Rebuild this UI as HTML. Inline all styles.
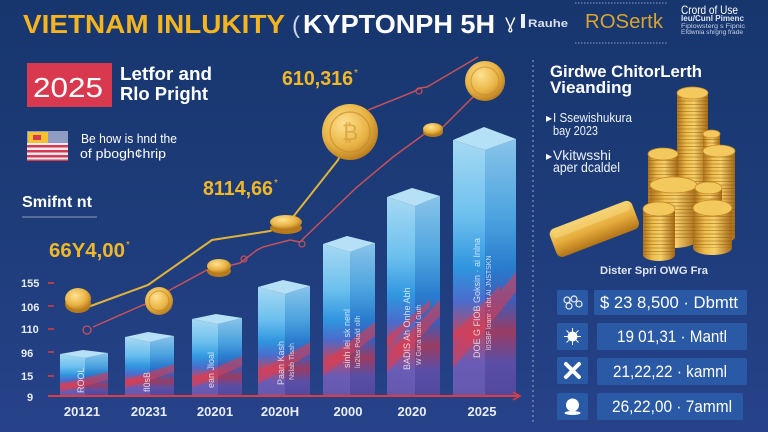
<!DOCTYPE html>
<html><head><meta charset="utf-8"><style>
html,body{margin:0;padding:0;background:#1b3a74;}
svg{display:block;}
text{font-family:"Liberation Sans",sans-serif;}
</style></head><body>
<svg width="768" height="432" viewBox="0 0 768 432" xmlns="http://www.w3.org/2000/svg">
<defs>
<linearGradient id="bg" x1="0" y1="0" x2="0" y2="1">
<stop offset="0" stop-color="#17366e"/><stop offset="0.5" stop-color="#1d3c79"/><stop offset="1" stop-color="#27428a"/>
</linearGradient>
<linearGradient id="bl" x1="0" y1="0" x2="0" y2="1">
<stop offset="0" stop-color="#a6d9f3"/><stop offset="0.3" stop-color="#6cc0ee"/><stop offset="0.5" stop-color="#2f95df"/><stop offset="0.63" stop-color="#4a6ccc"/><stop offset="0.75" stop-color="#b9486a"/><stop offset="0.87" stop-color="#6a5cb6"/><stop offset="1" stop-color="#6458ae"/>
</linearGradient>
<linearGradient id="br" x1="0" y1="0" x2="0" y2="1">
<stop offset="0" stop-color="#88c4ea"/><stop offset="0.3" stop-color="#4da4df"/><stop offset="0.5" stop-color="#297cce"/><stop offset="0.63" stop-color="#3f5cb8"/><stop offset="0.75" stop-color="#9a3c62"/><stop offset="0.87" stop-color="#5a4ea6"/><stop offset="1" stop-color="#52489e"/>
</linearGradient>
<radialGradient id="coin" cx="0.4" cy="0.35" r="0.7">
<stop offset="0" stop-color="#ffe291"/><stop offset="0.6" stop-color="#e8b344"/><stop offset="1" stop-color="#b5771b"/>
</radialGradient>
<linearGradient id="stk" x1="0" y1="0" x2="1" y2="0">
<stop offset="0" stop-color="#b0741b"/><stop offset="0.3" stop-color="#eebd4c"/><stop offset="0.55" stop-color="#f6d06a"/><stop offset="1" stop-color="#a66914"/>
</linearGradient>
<linearGradient id="gbar" x1="0" y1="0" x2="0" y2="1">
<stop offset="0" stop-color="#f6d374"/><stop offset="0.5" stop-color="#e6ac3c"/><stop offset="1" stop-color="#b27418"/>
</linearGradient>
<pattern id="rid" width="4" height="3.5" patternUnits="userSpaceOnUse"><rect y="2.5" width="4" height="1" fill="#8a5510" opacity="0.45"/></pattern>
</defs>

<rect width="768" height="432" fill="url(#bg)"/>

<!-- Title -->
<text x="23" y="33" font-size="26" font-weight="bold" fill="#f4b51f" textLength="262" lengthAdjust="spacingAndGlyphs">VIETNAM INLUKITY</text>
<text x="292" y="33" font-size="24" fill="#c9d2e6">(</text>
<text x="303" y="33" font-size="26" font-weight="bold" fill="#ffffff" textLength="192" lengthAdjust="spacingAndGlyphs">KYPTONPH 5H</text>
<text x="505" y="29" font-size="17" fill="#ffffff">Ɣ</text>
<rect x="521" y="14" width="4" height="14" fill="#e8edf6"/>
<text x="528" y="27" font-size="11" font-weight="bold" fill="#d8e0ee" textLength="40" lengthAdjust="spacingAndGlyphs">Rauhe</text>
<line x1="575" y1="3" x2="668" y2="3" stroke="#8d9cc4" stroke-width="1" stroke-dasharray="1.5 1.5"/>
<line x1="575" y1="43" x2="668" y2="43" stroke="#8d9cc4" stroke-width="1" stroke-dasharray="1.5 1.5"/>
<text x="585" y="28" font-size="20" fill="#d9a231" textLength="78" lengthAdjust="spacingAndGlyphs">ROSertk</text>
<text x="681" y="14" font-size="12" fill="#ffffff" textLength="57" lengthAdjust="spacingAndGlyphs">Crord of Use</text>
<text x="681" y="21" font-size="8" font-weight="bold" fill="#dde4f2" textLength="63" lengthAdjust="spacingAndGlyphs">Ieu/Cunl Pimenc</text>
<text x="681" y="28" font-size="6" fill="#c9d3e8" textLength="64" lengthAdjust="spacingAndGlyphs">Fiplowsterg s Fipnic</text>
<text x="681" y="34" font-size="6" fill="#c9d3e8" textLength="62" lengthAdjust="spacingAndGlyphs">Efdwnia shrgng frade</text>

<!-- Left header -->
<rect x="27" y="63" width="85" height="44" fill="#d8394f"/>
<text x="33" y="97" font-size="28" fill="#ffffff" textLength="70" lengthAdjust="spacingAndGlyphs">2025</text>
<text x="120" y="80" font-size="18" font-weight="bold" fill="#ffffff" textLength="92" lengthAdjust="spacingAndGlyphs">Letfor and</text>
<text x="120" y="100" font-size="18" font-weight="bold" fill="#ffffff" textLength="88" lengthAdjust="spacingAndGlyphs">Rlo Pright</text>

<!-- flag -->
<rect x="27" y="131" width="41" height="30" fill="#e9ecf4"/>
<rect x="27" y="131" width="41" height="12" fill="#8f9cc4"/>
<rect x="28" y="132" width="20" height="11" fill="#f2c230"/>
<rect x="33" y="135" width="8" height="5" fill="#d8394f"/>
<rect x="27" y="145" width="41" height="2.5" fill="#d8394f"/>
<rect x="27" y="150" width="41" height="2.5" fill="#d8394f"/>
<rect x="27" y="155" width="41" height="2.5" fill="#d8394f"/>
<rect x="27" y="159.5" width="41" height="1.5" fill="#d8394f"/>
<text x="81" y="143" font-size="13" fill="#ffffff" textLength="96" lengthAdjust="spacingAndGlyphs">Be how is hnd the</text>
<text x="80" y="158" font-size="13" fill="#ffffff" textLength="86" lengthAdjust="spacingAndGlyphs">of pbogh¢hrip</text>

<text x="22" y="207" font-size="16" font-weight="bold" fill="#ffffff" textLength="70" lengthAdjust="spacingAndGlyphs">Smifnt nt</text>
<line x1="22" y1="217" x2="97" y2="217" stroke="#8f9ab8" stroke-width="1"/>

<!-- yellow values -->
<text x="49" y="257" font-size="20" font-weight="bold" fill="#f0b828" textLength="76" lengthAdjust="spacingAndGlyphs">66Y4,00</text>
<text x="126" y="248" font-size="10" fill="#f0b828">*</text>
<text x="203" y="195" font-size="20" font-weight="bold" fill="#f0b828" textLength="70" lengthAdjust="spacingAndGlyphs">8114,66</text>
<text x="274" y="186" font-size="10" fill="#f0b828">*</text>
<text x="282" y="85" font-size="20" font-weight="bold" fill="#f0b828" textLength="71" lengthAdjust="spacingAndGlyphs">610,316</text>
<text x="354" y="76" font-size="10" fill="#f0b828">*</text>

<!-- Y axis -->
<g font-size="11" font-weight="bold" fill="#e6ecf6">
<text x="21" y="287">155</text>
<text x="21" y="311">106</text>
<text x="21" y="333">110</text>
<text x="21" y="357">96</text>
<text x="21" y="380">15</text>
<text x="27" y="401">9</text>
</g>
<g stroke="#e03c3c" stroke-width="1.5">
<line x1="48" y1="283" x2="54" y2="283"/>
<line x1="48" y1="306" x2="54" y2="306"/>
<line x1="48" y1="329" x2="54" y2="329"/>
<line x1="48" y1="352" x2="54" y2="352"/>
<line x1="48" y1="376" x2="54" y2="376"/>
</g>

<!-- Bars -->
<g>
<!-- bar1 -->
<polygon points="60,354 85,358 85,396 60,396" fill="url(#bl)"/>
<polygon points="85,358 108,353 108,396 85,396" fill="url(#br)"/>
<polygon points="60,354 83,350 108,353 85,358" fill="#b6e0f5"/>
<!-- bar2 -->
<polygon points="125,337 150,342 150,396 125,396" fill="url(#bl)"/>
<polygon points="150,342 174,336 174,396 150,396" fill="url(#br)"/>
<polygon points="125,337 148,332 174,336 150,342" fill="#b6e0f5"/>
<!-- bar3 -->
<polygon points="192,319 218,324 218,396 192,396" fill="url(#bl)"/>
<polygon points="218,324 242,318 242,396 218,396" fill="url(#br)"/>
<polygon points="192,319 216,314 242,318 218,324" fill="#b6e0f5"/>
<!-- bar4 -->
<polygon points="258,287 285,294 285,396 258,396" fill="url(#bl)"/>
<polygon points="285,294 310,286 310,396 285,396" fill="url(#br)"/>
<polygon points="258,287 283,280 310,286 285,294" fill="#b6e0f5"/>
<!-- bar5 -->
<polygon points="323,244 350,252 350,396 323,396" fill="url(#bl)"/>
<polygon points="350,252 375,243 375,396 350,396" fill="url(#br)"/>
<polygon points="323,244 347,236 375,243 350,252" fill="#b6e0f5"/>
<!-- bar6 -->
<polygon points="387,197 415,206 415,396 387,396" fill="url(#bl)"/>
<polygon points="415,206 440,196 440,396 415,396" fill="url(#br)"/>
<polygon points="387,197 412,188 440,196 415,206" fill="#b6e0f5"/>
<!-- bar7 -->
<polygon points="453,140 485,150 485,396 453,396" fill="url(#bl)"/>
<polygon points="485,150 516,139 516,396 485,396" fill="url(#br)"/>
<polygon points="453,140 484,127 516,139 485,150" fill="#b6e0f5"/>
</g>
<!-- red streaks -->
<g fill="#e63a4a" opacity="0.55">
<polygon points="60,392 60,384 108,372 108,380"/>
<polygon points="125,388 125,380 174,364 174,372"/>
<polygon points="192,388 192,378 242,356 242,366"/>
<polygon points="258,384 258,372 310,342 310,354"/>
<polygon points="323,376 323,362 375,322 375,336"/>
<polygon points="387,372 387,356 440,300 440,316"/>
<polygon points="453,368 453,348 516,272 516,292"/>
<polygon points="453,345 453,335 500,285 500,295"/>
<polygon points="387,345 387,337 430,300 430,308"/>
</g>
<!-- vertical bar texts -->
<g font-size="9" fill="#ffffff" opacity="0.75">
<text transform="translate(84,393) rotate(-90)">ROOL</text>
<text transform="translate(150,392) rotate(-90)">fl0sB</text>
<text transform="translate(214,388) rotate(-90)">ean Jloal</text>
<text transform="translate(284,385) rotate(-90)">Paan Kash</text>
<text transform="translate(294,380) rotate(-90)" font-size="7">Nslab Tlsah</text>
<text transform="translate(350,368) rotate(-90)">sinh lei sk nenl</text>
<text transform="translate(360,368) rotate(-90)" font-size="7">lu2las Poiald ollh</text>
<text transform="translate(410,370) rotate(-90)">BADIS Ah Onhe Abh</text>
<text transform="translate(421,365) rotate(-90)" font-size="7">W Guna naral Guth</text>
<text transform="translate(480,358) rotate(-90)">DOE G FIOB  Goksin · ai Inlna</text>
<text transform="translate(491,350) rotate(-90)" font-size="7">l0SBF loanr · nbt AI JNSTSKN</text>
</g>

<!-- baseline -->
<line x1="48" y1="396" x2="519" y2="396" stroke="#e03c3c" stroke-width="2"/>
<polyline points="513,392 520,396 513,400" fill="none" stroke="#e03c3c" stroke-width="1.5"/>

<!-- X labels -->
<g font-size="13" font-weight="bold" fill="#e8eef8" text-anchor="middle">
<text x="82" y="416">20121</text>
<text x="149" y="416">20231</text>
<text x="215" y="416">20201</text>
<text x="280" y="416">2020H</text>
<text x="348" y="416">2000</text>
<text x="412" y="416">2020</text>
<text x="482" y="416">2025</text>
</g>

<!-- Lines -->
<polyline points="88,307 148,285 212,240 270,231 286,224 293,217 338,160 350,133" fill="none" stroke="#e2b33a" stroke-width="2"/>
<polyline points="93,327 143,305 159,301 170,290 207,270 219,268 232,265 240,263 257,250 263,247 290,240 300,242 305,237 357,187 393,157 423,135 433,130 443,127 473,97 485,80" fill="none" stroke="#c8505a" stroke-width="1.5"/>
<circle cx="87" cy="330" r="4" fill="none" stroke="#c8505a" stroke-width="1.3"/>
<circle cx="244" cy="259" r="3" fill="none" stroke="#c8505a" stroke-width="1.2"/>
<circle cx="302" cy="244" r="3" fill="none" stroke="#c8505a" stroke-width="1.2"/>
<polyline points="368,110 413,92 420,88 427,87 473,60 478,57" fill="none" stroke="#c8505a" stroke-width="1.5"/>
<circle cx="419" cy="91" r="3" fill="none" stroke="#c8505a" stroke-width="1.2"/>

<!-- chart coins -->
<ellipse cx="78" cy="304" rx="13" ry="9" fill="#b77a1c"/>
<ellipse cx="78" cy="299" rx="13" ry="11" fill="url(#coin)"/>
<circle cx="159" cy="301" r="14" fill="url(#coin)"/>
<circle cx="159" cy="301" r="10" fill="none" stroke="#b9791c" stroke-width="1" opacity="0.6"/>
<ellipse cx="219" cy="271" rx="12" ry="6" fill="#b77a1c"/>
<ellipse cx="219" cy="266" rx="12" ry="7" fill="url(#coin)"/>
<ellipse cx="286" cy="228" rx="16" ry="6" fill="#b77a1c"/>
<ellipse cx="286" cy="222" rx="16" ry="7" fill="url(#coin)"/>
<circle cx="350" cy="132" r="28" fill="url(#coin)"/>
<circle cx="350" cy="132" r="20" fill="none" stroke="#c48828" stroke-width="1.5" opacity="0.6"/>
<text x="350" y="140" font-size="22" fill="#d49a34" text-anchor="middle" opacity="0.7">₿</text>
<ellipse cx="433" cy="132" rx="10" ry="5" fill="#b77a1c"/>
<ellipse cx="433" cy="129" rx="10" ry="6" fill="url(#coin)"/>
<circle cx="485" cy="81" r="20" fill="url(#coin)"/>
<circle cx="485" cy="81" r="14" fill="none" stroke="#c48828" stroke-width="1.2" opacity="0.6"/>

<!-- Right panel -->
<line x1="533" y1="60" x2="533" y2="422" stroke="#9aa6c8" stroke-width="1" stroke-dasharray="2 3"/>
<text x="550" y="77" font-size="17" font-weight="bold" fill="#ffffff" textLength="152" lengthAdjust="spacingAndGlyphs">Girdwe ChitorLerth</text>
<text x="550" y="93" font-size="17" font-weight="bold" fill="#ffffff" textLength="82" lengthAdjust="spacingAndGlyphs">Vieanding</text>
<text x="546" y="122" font-size="12" fill="#ffffff">▸</text>
<text x="553" y="122" font-size="13" fill="#eef2fa" textLength="79" lengthAdjust="spacingAndGlyphs">I Ssewishukura</text>
<text x="553" y="135" font-size="13" fill="#eef2fa" textLength="45" lengthAdjust="spacingAndGlyphs">bay 2023</text>
<text x="546" y="160" font-size="12" fill="#ffffff">▸</text>
<text x="553" y="160" font-size="14" fill="#eef2fa" textLength="58" lengthAdjust="spacingAndGlyphs">Vkitwsshi</text>
<text x="553" y="172" font-size="14" fill="#eef2fa" textLength="67" lengthAdjust="spacingAndGlyphs">aper dcaldel</text>

<!-- gold bar -->
<g transform="rotate(-21 594 228)">
<rect x="550" y="214" width="88" height="30" rx="6" fill="url(#gbar)"/>
<rect x="553" y="215" width="82" height="9" rx="4" fill="#f7d67a" opacity="0.55"/>
</g>

<!-- coin stacks -->
<g>
<!-- A -->
<ellipse cx="692.5" cy="185" rx="15.5" ry="6" fill="url(#stk)"/>
<rect x="677" y="93" width="31" height="92" fill="url(#stk)"/><rect x="677" y="93" width="31" height="92" fill="url(#rid)"/>
<ellipse cx="692.5" cy="93" rx="15.5" ry="6" fill="#f3c95e" stroke="#c48a28" stroke-width="0.8"/>
<!-- B -->
<rect x="703" y="134" width="17" height="66" fill="url(#stk)"/><rect x="703" y="134" width="17" height="66" fill="url(#rid)"/>
<ellipse cx="711.5" cy="134" rx="8.5" ry="4" fill="#f3c95e" stroke="#c48a28" stroke-width="0.8"/>
<!-- D -->
<ellipse cx="663" cy="210" rx="15" ry="6" fill="url(#stk)"/>
<rect x="648" y="154" width="30" height="56" fill="url(#stk)"/><rect x="648" y="154" width="30" height="56" fill="url(#rid)"/>
<ellipse cx="663" cy="154" rx="15" ry="6" fill="#f3c95e" stroke="#c48a28" stroke-width="0.8"/>
<!-- C -->
<ellipse cx="719" cy="237" rx="16" ry="6" fill="url(#stk)"/>
<rect x="703" y="151" width="32" height="86" fill="url(#stk)"/><rect x="703" y="151" width="32" height="86" fill="url(#rid)"/>
<ellipse cx="719" cy="151" rx="16" ry="6" fill="#f3c95e" stroke="#c48a28" stroke-width="0.8"/>
<!-- E -->
<ellipse cx="673.5" cy="240" rx="23.5" ry="8" fill="url(#stk)"/>
<rect x="650" y="185" width="47" height="55" fill="url(#stk)"/><rect x="650" y="185" width="47" height="55" fill="url(#rid)"/>
<ellipse cx="673.5" cy="185" rx="23.5" ry="8" fill="#f3c95e" stroke="#c48a28" stroke-width="0.8"/>
<!-- F -->
<ellipse cx="708.5" cy="240" rx="13.5" ry="6" fill="url(#stk)"/>
<rect x="695" y="188" width="27" height="52" fill="url(#stk)"/><rect x="695" y="188" width="27" height="52" fill="url(#rid)"/>
<ellipse cx="708.5" cy="188" rx="13.5" ry="6" fill="#f3c95e" stroke="#c48a28" stroke-width="0.8"/>
<!-- G -->
<ellipse cx="659" cy="255" rx="16" ry="6" fill="url(#stk)"/>
<rect x="643" y="209" width="32" height="46" fill="url(#stk)"/><rect x="643" y="209" width="32" height="46" fill="url(#rid)"/>
<ellipse cx="659" cy="209" rx="16" ry="7" fill="#f3c95e" stroke="#c48a28" stroke-width="0.8"/>
<!-- H -->
<ellipse cx="712.5" cy="248" rx="19.5" ry="7" fill="url(#stk)"/>
<rect x="693" y="208" width="39" height="40" fill="url(#stk)"/><rect x="693" y="208" width="39" height="40" fill="url(#rid)"/>
<ellipse cx="712.5" cy="208" rx="19.5" ry="8" fill="#f3c95e" stroke="#c48a28" stroke-width="0.8"/>
</g>

<text x="600" y="274" font-size="11" font-weight="bold" fill="#dfe5f2" textLength="108" lengthAdjust="spacingAndGlyphs">Dister Spri OWG Fra</text>

<!-- rows -->
<g fill="#2a5aa6">
<rect x="557" y="290" width="31" height="25" rx="2"/>
<rect x="557" y="323" width="31" height="27" rx="2"/>
<rect x="557" y="357" width="31" height="27" rx="2"/>
<rect x="557" y="393" width="31" height="27" rx="2"/>
<rect x="594" y="290" width="153" height="25" rx="2"/>
<rect x="597" y="323" width="150" height="27" rx="2"/>
<rect x="597" y="358" width="150" height="27" rx="2"/>
<rect x="597" y="393" width="146" height="27" rx="2"/>
</g>
<!-- icons -->
<g fill="none" stroke="#e8eef8" stroke-width="1.2">
<circle cx="567" cy="300" r="3"/><circle cx="574" cy="299" r="3"/><circle cx="579" cy="304" r="3"/><circle cx="569" cy="306" r="3"/>
</g>
<circle cx="572.5" cy="336.5" r="5" fill="#ffffff"/>
<g stroke="#ffffff" stroke-width="1">
<line x1="572.5" y1="328" x2="572.5" y2="345"/><line x1="564" y1="336.5" x2="581" y2="336.5"/>
<line x1="566.5" y1="330.5" x2="578.5" y2="342.5"/><line x1="578.5" y1="330.5" x2="566.5" y2="342.5"/>
</g>
<g stroke="#ffffff" stroke-width="4" stroke-linecap="round">
<line x1="566" y1="364" x2="579" y2="377"/><line x1="579" y1="364" x2="566" y2="377"/>
</g>
<circle cx="572.5" cy="405" r="6.5" fill="#ffffff"/>
<ellipse cx="572.5" cy="413" rx="8" ry="2" fill="#ffffff"/>

<g font-size="17" fill="#ffffff">
<text x="600" y="308" textLength="138" lengthAdjust="spacingAndGlyphs">$ 23 8,500 · Dbmtt</text>
<text x="617" y="342" textLength="110" lengthAdjust="spacingAndGlyphs">19 01,31 · Mantl</text>
<text x="613" y="377" textLength="114" lengthAdjust="spacingAndGlyphs">21,22,22 · kamnl</text>
<text x="612" y="412" textLength="120" lengthAdjust="spacingAndGlyphs">26,22,00 · 7amml</text>
</g>
</svg>
</body></html>
